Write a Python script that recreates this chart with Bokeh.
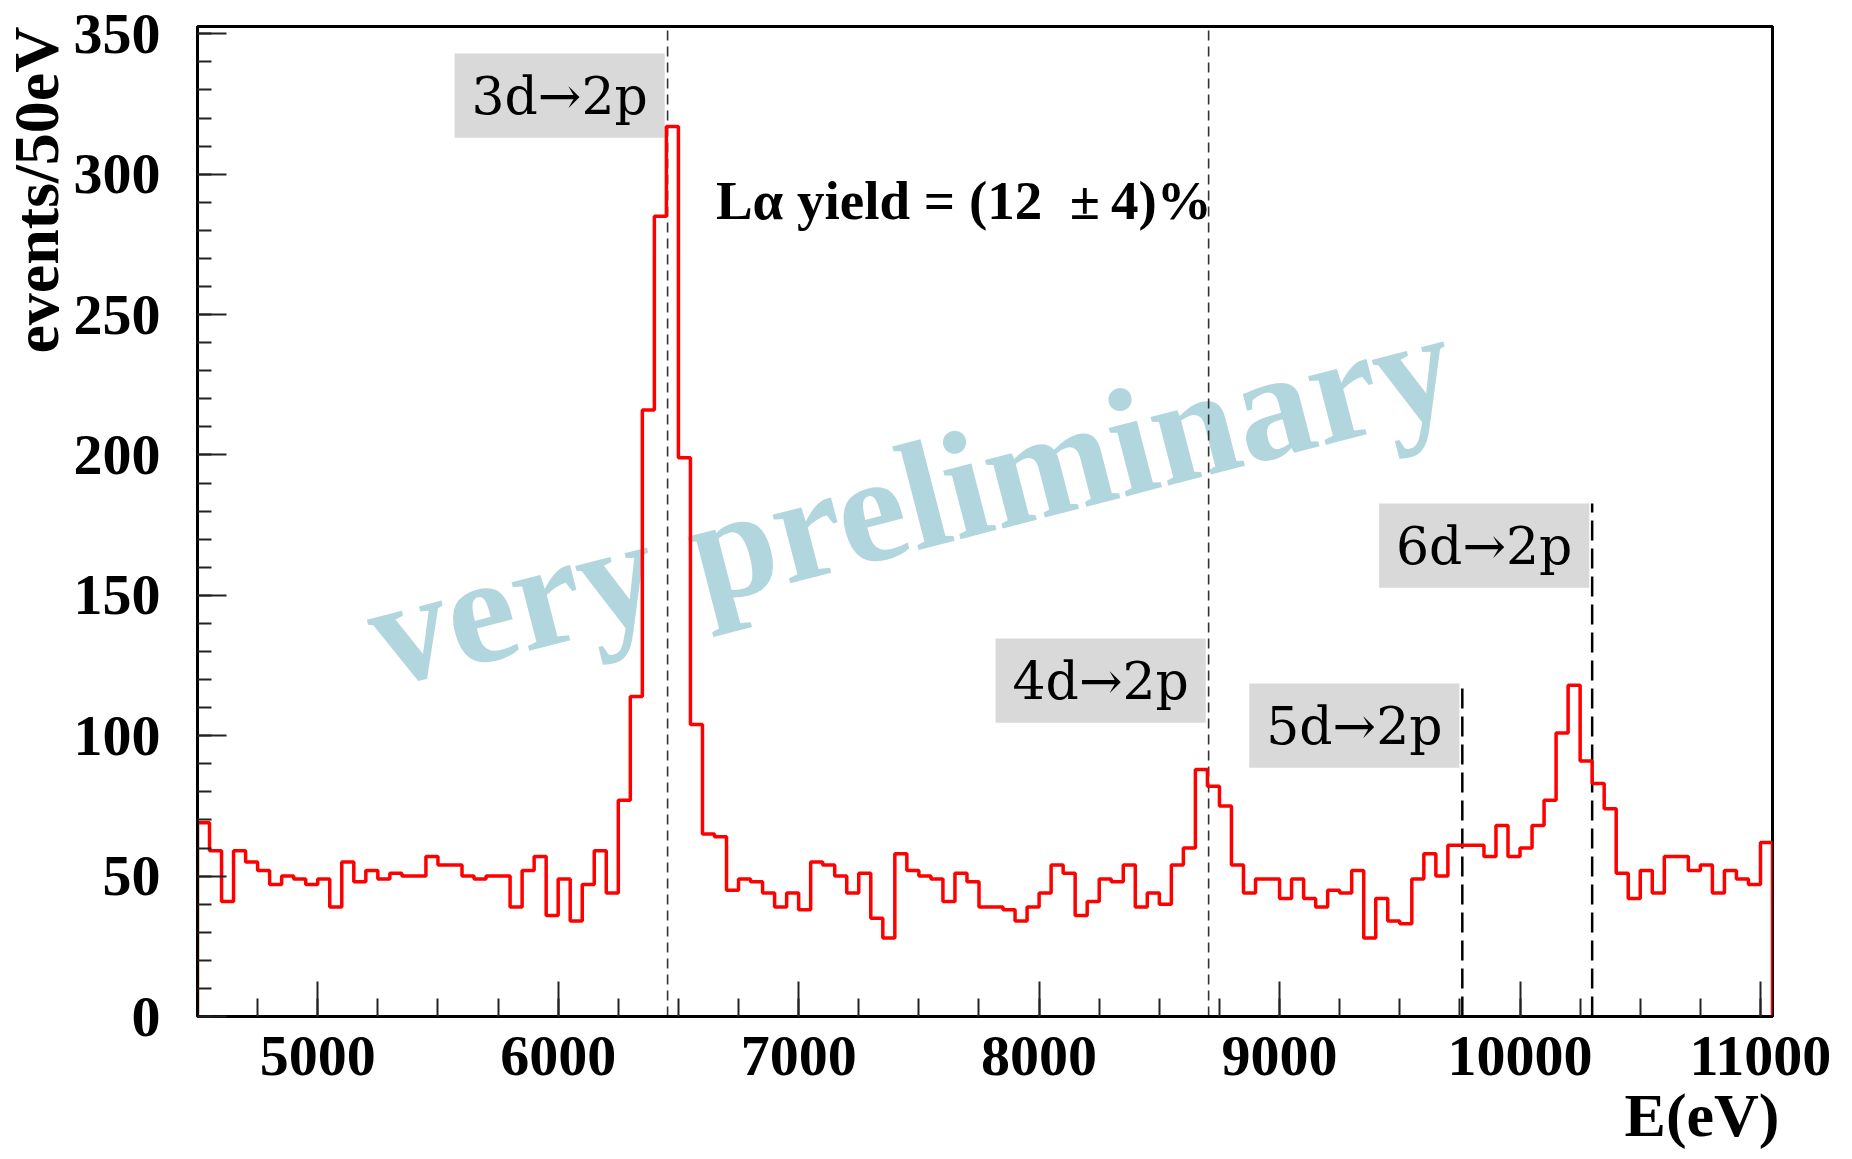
import numpy as np
from bokeh.plotting import figure
from bokeh.models import Range1d, SingleIntervalTicker, Title
from bokeh.core.properties import value
from bokeh.embed import file_html
from bokeh.resources import INLINE

# ---------------- data ----------------
bin_start = 4500          # eV
bin_width = 50            # eV
counts = [69, 59, 41, 59, 55, 52, 47, 50, 49, 47,
          49, 39, 55, 48, 52, 49, 51, 50, 50, 57,
          54, 54, 50, 49, 50, 50, 39, 52, 57, 36,
          49, 34, 47, 59, 44, 77, 114, 216, 285, 317,
          199, 104, 65, 64, 45, 49, 48, 44, 39, 44,
          38, 55, 54, 50, 44, 51, 35, 28, 58, 52,
          50, 49, 41, 51, 48, 39, 39, 38, 34, 39,
          44, 54, 51, 36, 41, 49, 48, 54, 39, 44,
          40, 54, 60, 88, 82, 75, 54, 44, 49, 49,
          42, 49, 42, 39, 45, 44, 52, 28, 42, 34,
          33, 49, 58, 50, 61, 61, 61, 57, 68, 57,
          60, 68, 77, 101, 118, 91, 83, 74, 51, 42,
          52, 44, 57, 57, 52, 54, 44, 52, 49, 47,
          62]
line_energies = [6455, 8705, 9760, 10300]
line_labels = ["3d\u21922p", "4d\u21922p", "5d\u21922p", "6d\u21922p"]
x_tick_values = [5000, 6000, 7000, 8000, 9000, 10000, 11000]
y_tick_values = [0, 50, 100, 150, 200, 250, 300, 350]
yield_text = "L\u03b1 yield = (12\u00a0\u00a0\u00b1\u20094)%"
watermark_text = "very preliminary"

# ---------------- layout constants ----------------
X_MIN, X_MAX = 4500, 11050
Y_MIN, Y_MAX = 0, 352.6
box_width_eV = 874
box_height = 30
box_gap_eV = 12
box_bottoms = [313, 104.6, 88.6, 152.7]
full_height_lines = [True, True, False, False]

SERIF = "Liberation Serif"

p = figure(frame_width=1575, frame_height=990, output_backend="svg",
           toolbar_location=None,
           x_range=Range1d(X_MIN, X_MAX), y_range=Range1d(Y_MIN, Y_MAX),
           min_border_left=197, min_border_right=80, min_border_top=26,
           min_border_bottom=143)
p.background_fill_color = "white"
p.border_fill_color = "white"
p.grid.visible = False
p.outline_line_color = "black"
p.outline_line_width = 3

# axes
p.xaxis.ticker = SingleIntervalTicker(interval=1000, num_minor_ticks=4)
p.yaxis.ticker = SingleIntervalTicker(interval=50, num_minor_ticks=5)
for ax in (p.xaxis[0], p.yaxis[0]):
    ax.axis_line_color = "black"
    ax.axis_line_width = 3
    ax.major_tick_line_color = "#222222"
    ax.minor_tick_line_color = "#222222"
    ax.major_tick_line_width = 2
    ax.minor_tick_line_width = 2
    ax.major_tick_out = 0
    ax.minor_tick_out = 0
    ax.major_label_text_font = SERIF
    ax.major_label_text_font_style = "bold"
    ax.major_label_text_font_size = "58px"
    ax.major_label_text_color = "black"
p.xaxis.major_tick_in = 35
p.xaxis.minor_tick_in = 18
p.yaxis.major_tick_in = 29
p.yaxis.minor_tick_in = 14
p.xaxis.major_label_standoff = 20
p.yaxis.major_label_standoff = 37

p.add_layout(Title(text="events/50eV", align="right", text_font=SERIF,
                   text_font_style="bold", text_font_size="64px",
                   text_color="black", standoff=-3), "left")
p.add_layout(Title(text="E(eV)", align="right", text_font=SERIF,
                   text_font_style="bold", text_font_size="62px",
                   text_color="black", offset=-7, standoff=2), "below")

# watermark
p.text(x=[7465], y=[184.5], text=[watermark_text], angle=14.5, angle_units="deg",
       text_font=value(SERIF), text_font_style="bold", text_font_size="154px",
       text_color="#b2d6dd", text_align="center", text_baseline="alphabetic")

# label boxes
lefts = [e - box_gap_eV - box_width_eV for e in line_energies]
rights = [e - box_gap_eV for e in line_energies]
tops = [b + box_height for b in box_bottoms]
p.quad(left=lefts, right=rights, bottom=box_bottoms, top=tops,
       fill_color="#d9d9d9", line_color=None)
p.text(x=[(l + r) / 2 for l, r in zip(lefts, rights)],
       y=[b + box_height / 2 for b in box_bottoms], text=line_labels,
       text_font=value("DejaVu Serif"), text_font_size="52px", text_color="black",
       text_align="center", text_baseline="middle")

# dashed lines
for e, full, top in zip(line_energies, full_height_lines, tops):
    if full:
        p.segment(x0=[e], y0=[Y_MIN], x1=[e], y1=[Y_MAX],
                  line_color="#333333", line_width=1.6, line_dash="10 6")
    else:
        p.segment(x0=[e], y0=[Y_MIN], x1=[e], y1=[top],
                  line_color="black", line_width=2.5, line_dash="20 8")

# histogram outline
edges = bin_start + bin_width * np.arange(len(counts) + 1)
xs = np.repeat(edges, 2)
ys = np.concatenate([[0], np.repeat(counts, 2), [0]])
p.line(xs, ys, line_color="#ff0000", line_width=3.5)

# yield text
p.text(x=[6656], y=[290.5], text=[yield_text], text_font=value(SERIF),
       text_font_style="bold", text_font_size="55px", text_color="black",
       text_align="left", text_baseline="alphabetic")

open("out.html", "w").write(file_html(p, INLINE))
